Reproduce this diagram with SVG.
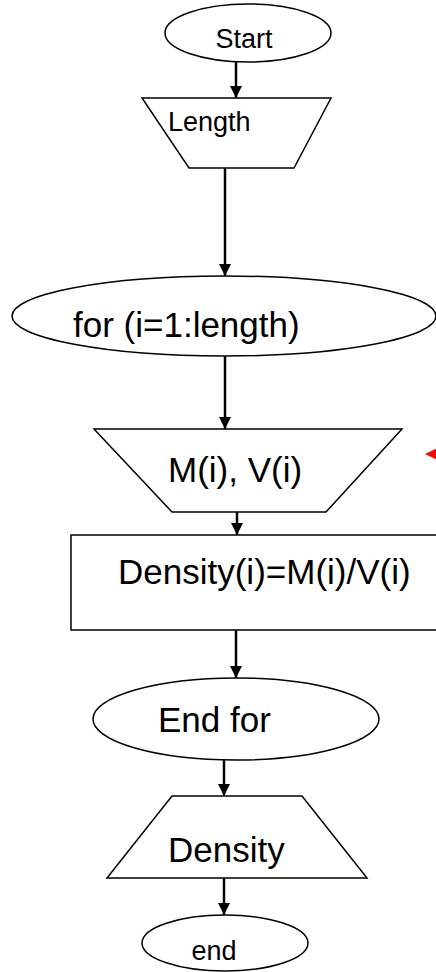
<svg xmlns="http://www.w3.org/2000/svg" width="436" height="972" viewBox="0 0 436 972">
<defs>
<style>
.shape{fill:#fff;stroke:#000;stroke-width:1.5}
.lbl{font-family:"Liberation Sans",Arial,sans-serif;fill:#000}
.sm{font-size:27px}
.lg{font-size:35px}
.conn line{stroke:#000;stroke-width:2.5}
</style>
<marker id="ah" markerWidth="12" markerHeight="12" refX="10" refY="5" orient="auto" markerUnits="userSpaceOnUse" viewBox="0 0 10 10">
<path d="M0,0 L10,5 L0,10 z" fill="#000"/>
</marker>
</defs>
<rect width="436" height="972" fill="#fff"/>
<g id="start">
<ellipse class="shape" cx="248" cy="33" rx="83" ry="29"/>
<text class="lbl sm" x="244" y="48" text-anchor="middle">Start</text>
</g>
<g id="length">
<polygon class="shape" points="142,98 331,98 294,168 189,168"/>
<text class="lbl sm" x="168" y="131">Length</text>
</g>
<g id="for">
<ellipse class="shape" cx="224" cy="316" rx="212" ry="40"/>
<text class="lbl lg" x="73" y="337">for (i=1:length)</text>
</g>
<g id="mv">
<polygon class="shape" points="94,429 402,429 326,512 172,512"/>
<text class="lbl lg" x="168" y="482">M(i), V(i)</text>
</g>
<g id="density-calc">
<rect class="shape" x="71" y="535" width="380" height="95"/>
<text class="lbl lg" x="118" y="584">Density(i)=M(i)/V(i)</text>
</g>
<g id="endfor">
<ellipse class="shape" cx="236" cy="719" rx="143" ry="41"/>
<text class="lbl lg" x="158" y="732">End for</text>
</g>
<g id="density-out">
<polygon class="shape" points="172,796 302,796 367,878 107,878"/>
<text class="lbl lg" x="168" y="862">Density</text>
</g>
<g id="end">
<ellipse class="shape" cx="225" cy="943" rx="83" ry="28"/>
<text class="lbl sm" x="214" y="960" text-anchor="middle">end</text>
</g>
<g id="connectors" class="conn">
<line x1="236" y1="62" x2="236" y2="98" marker-end="url(#ah)"/>
<line x1="225" y1="168" x2="225" y2="276" marker-end="url(#ah)"/>
<line x1="225" y1="356" x2="225" y2="429" marker-end="url(#ah)"/>
<line x1="237" y1="512" x2="237" y2="535" marker-end="url(#ah)"/>
<line x1="236" y1="630" x2="236" y2="678" marker-end="url(#ah)"/>
<line x1="224" y1="760" x2="224" y2="796" marker-end="url(#ah)"/>
<line x1="224" y1="878" x2="224" y2="915" marker-end="url(#ah)"/>
<polygon points="425,454 440,447 440,461" fill="#f00"/>
</g>
</svg>
